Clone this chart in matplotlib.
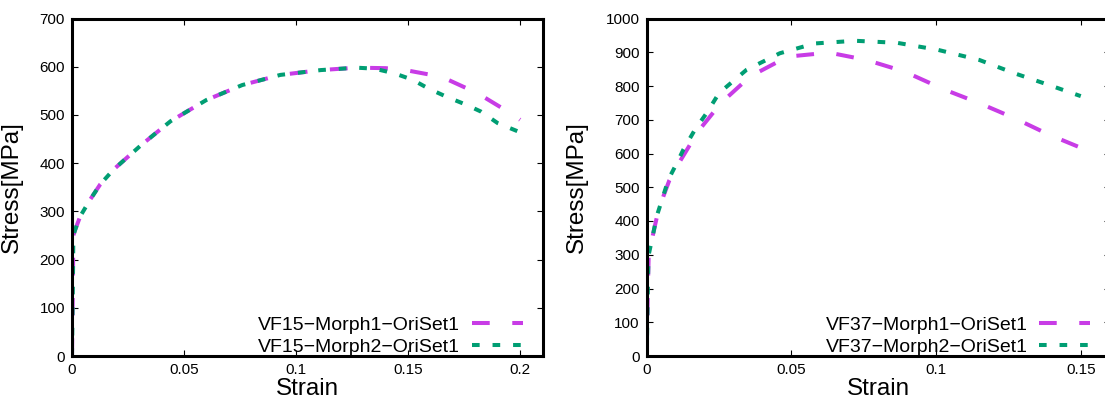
import matplotlib
matplotlib.use('Agg')
import matplotlib.pyplot as plt
import matplotlib.ticker as ticker

plt.rcParams['font.family'] = ['Liberation Sans', 'DejaVu Sans']

purple = '#c83ce6'
green = '#009e73'

# left panel: VF15
vf15StrainM1 = [0, 0.0004, 0.0006, 0.0015, 0.0037, 0.0082, 0.0126, 0.0186, 0.031, 0.044, 0.06, 0.076,
                0.093, 0.111, 0.127, 0.14, 0.15, 0.165, 0.181, 0.197, 0.2]
vf15StressM1 = [0, 150, 250, 263, 290, 325, 356, 387, 438, 487, 531, 562,
                583, 593, 598, 597, 592, 579, 545, 500, 490]
vf15StrainM2 = [0, 0.0004, 0.0006, 0.0015, 0.0037, 0.0082, 0.0126, 0.0186, 0.031, 0.044, 0.06, 0.076,
                0.093, 0.111, 0.127, 0.135, 0.144, 0.152, 0.159, 0.167, 0.176, 0.1825, 0.19, 0.2]
vf15StressM2 = [0, 150, 250, 263, 290, 325, 356, 387, 438, 487, 531, 562,
                583, 593, 598, 596, 586, 573, 555, 538, 521, 507, 483, 464]

# right panel: VF37
vf37StrainM1 = [0, 0.0004, 0.0007, 0.0023, 0.0036, 0.0058, 0.0078, 0.011, 0.0178, 0.0256, 0.0357,
                0.0487, 0.063, 0.076, 0.089, 0.103, 0.115, 0.127, 0.139, 0.15]
vf37StressM1 = [0, 200, 300, 365, 415, 474, 520, 570, 666, 749, 828,
                887, 899, 877, 843, 789, 749, 705, 656, 617]
vf37StrainM2 = [0, 0.0004, 0.0006, 0.0023, 0.0035, 0.0057, 0.0075, 0.0105, 0.0127, 0.0167, 0.0208,
                0.025, 0.0345, 0.046, 0.058, 0.072, 0.0865, 0.1007, 0.115, 0.127, 0.139, 0.15]
vf37StressM2 = [0, 200, 296, 365, 415, 474, 523, 573, 612, 671, 721,
                779, 848, 897, 926, 934, 928, 907, 877, 838, 803, 770]


def setupAxes(ax, xmax, ymax, xstep):
    ax.set_xlim(0, xmax)
    ax.set_ylim(0, ymax)
    ax.xaxis.set_major_locator(ticker.MultipleLocator(xstep))
    ax.yaxis.set_major_locator(ticker.MultipleLocator(100))
    ax.xaxis.set_major_formatter(ticker.FuncFormatter(lambda v, p: '%g' % round(v, 4)))
    ax.tick_params(direction='in', length=4.5, width=0.8, top=True, right=True,
                   labelsize=11, pad=5)
    for s in ax.spines.values():
        s.set_linewidth(2.2)
    ax.set_xlabel('Strain', fontsize=17.5)
    ax.set_ylabel('Stress[MPa]', fontsize=17.5)
    ax.xaxis.set_label_coords(0.5, -0.066)


def drawPanel(ax, s1, y1, s2, y2, name):
    ax.plot(s1, y1, color=purple, lw=2.9, linestyle=(0, (4.4, 5.6)),
            label=f'{name}\u2212Morph1\u2212OriSet1')
    ax.plot(s2, y2, color=green, lw=2.9, linestyle=(0, (1.9, 3.2)),
            label=f'{name}\u2212Morph2\u2212OriSet1')
    ax.legend(loc='lower right', bbox_to_anchor=(0.958, 0.0), frameon=False,
              fontsize=14, borderpad=0, borderaxespad=0, handlelength=2.63,
              handletextpad=0.6, labelspacing=0.22, markerfirst=False)


fig = plt.figure(figsize=(11.05, 4), dpi=100)
ax1 = fig.add_axes([72 / 1105, 44 / 400, 470.5 / 1105, 337.5 / 400])
ax2 = fig.add_axes([646.7 / 1105, 44 / 400, 463 / 1105, 337.5 / 400])

drawPanel(ax1, vf15StrainM1, vf15StressM1, vf15StrainM2, vf15StressM2, 'VF15')
setupAxes(ax1, 0.21, 700, 0.05)
ax1.yaxis.set_label_coords(-0.105, 0.5)

drawPanel(ax2, vf37StrainM1, vf37StressM1, vf37StrainM2, vf37StressM2, 'VF37')
setupAxes(ax2, 0.16, 1000, 0.05)
ax2.yaxis.set_label_coords(-0.126, 0.5)

fig.savefig('out.png', dpi=100)
